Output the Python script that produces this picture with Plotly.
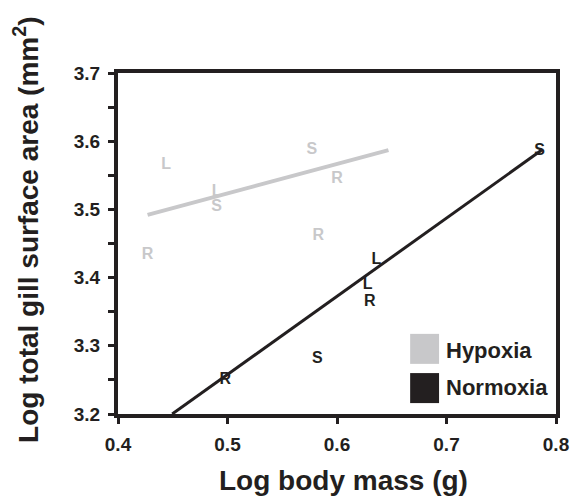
import plotly.graph_objects as go

# Hypoxia data (letters = species codes)
hyp_x = [0.444, 0.490, 0.490, 0.577, 0.600, 0.583, 0.427]
hyp_y = [3.565, 3.525, 3.504, 3.587, 3.545, 3.461, 3.433]
hyp_lbl = ["L", "L", "S", "S", "R", "R", "R"]
hyp_line_x = [0.427, 0.647]
hyp_line_y = [3.492, 3.587]

# Normoxia data
nor_x = [0.785, 0.636, 0.628, 0.630, 0.582, 0.498]
nor_y = [3.586, 3.426, 3.389, 3.364, 3.281, 3.250]
nor_lbl = ["S", "L", "L", "R", "S", "R"]
nor_line_x = [0.4495, 0.787]
nor_line_y = [3.200, 3.587]

x_ticks = [0.4, 0.5, 0.6, 0.7, 0.8]
y_ticks = [3.2, 3.3, 3.4, 3.5, 3.6, 3.7]

GRAY = "#c8c8ca"
BLACK = "#231f20"
FONT = "Liberation Sans"

fig = go.Figure()
fig.add_trace(go.Scatter(x=hyp_x, y=hyp_y, mode="text", text=hyp_lbl,
                         textfont=dict(family=FONT, size=16, color=GRAY, weight="bold"),
                         showlegend=False, hoverinfo="skip"))
fig.add_trace(go.Scatter(x=hyp_line_x, y=hyp_line_y, mode="lines",
                         line=dict(color=GRAY, width=4), showlegend=False))
fig.add_trace(go.Scatter(x=nor_x, y=nor_y, mode="text", text=nor_lbl,
                         textfont=dict(family=FONT, size=16, color=BLACK, weight="bold"),
                         showlegend=False, hoverinfo="skip"))
fig.add_trace(go.Scatter(x=nor_line_x, y=nor_line_y, mode="lines",
                         line=dict(color=BLACK, width=3), showlegend=False))

# Legend (boxes + labels)
fig.add_shape(type="rect", xref="paper", yref="paper", x0=0.667, x1=0.733, y0=0.147, y1=0.235,
              fillcolor=GRAY, line=dict(width=0))
fig.add_shape(type="rect", xref="paper", yref="paper", x0=0.667, x1=0.733, y0=0.032, y1=0.120,
              fillcolor=BLACK, line=dict(width=0))
fig.add_annotation(xref="paper", yref="paper", x=0.744, y=0.185, text="Hypoxia", showarrow=False,
                   xanchor="left", yanchor="middle", font=dict(family=FONT, size=22, color=BLACK, weight="bold"))
fig.add_annotation(xref="paper", yref="paper", x=0.744, y=0.079, text="Normoxia", showarrow=False,
                   xanchor="left", yanchor="middle", font=dict(family=FONT, size=22, color=BLACK, weight="bold"))

# Axis titles
fig.add_annotation(xref="paper", yref="paper", x=0.515, y=-0.194, text="Log body mass (g)", showarrow=False,
                   xanchor="center", yanchor="middle", font=dict(family=FONT, size=28, color=BLACK, weight="bold"))
fig.add_annotation(xref="paper", yref="paper", x=-0.21, y=0.54, text="Log total gill surface area (mm<sup>2</sup>)",
                   showarrow=False, textangle=-90, xanchor="center", yanchor="middle",
                   font=dict(family=FONT, size=28, color=BLACK, weight="bold"))

axis_common = dict(showline=True, linecolor=BLACK, linewidth=4, mirror=True,
                   ticks="outside", tickcolor=BLACK, tickwidth=3, ticklen=6,
                   showgrid=False, zeroline=False, ticklabelstandoff=4,
                   tickfont=dict(family=FONT, size=19, color=BLACK, weight="bold"))

fig.update_xaxes(range=[0.4, 0.8], tickvals=x_ticks, ticktext=[f"{v:.1f}" for v in x_ticks],
                 **axis_common)
fig.update_yaxes(range=[3.2, 3.7], tickvals=y_ticks, ticktext=[f"{v:.1f}" for v in y_ticks],
                 minor=dict(dtick=0.05, ticks="outside", ticklen=6, tickwidth=3, tickcolor=BLACK),
                 **axis_common)

fig.update_layout(width=584, height=502, margin=dict(l=118, r=28, t=73, b=88),
                  plot_bgcolor="white", paper_bgcolor="white", showlegend=False)

fig.write_html("out.html")
